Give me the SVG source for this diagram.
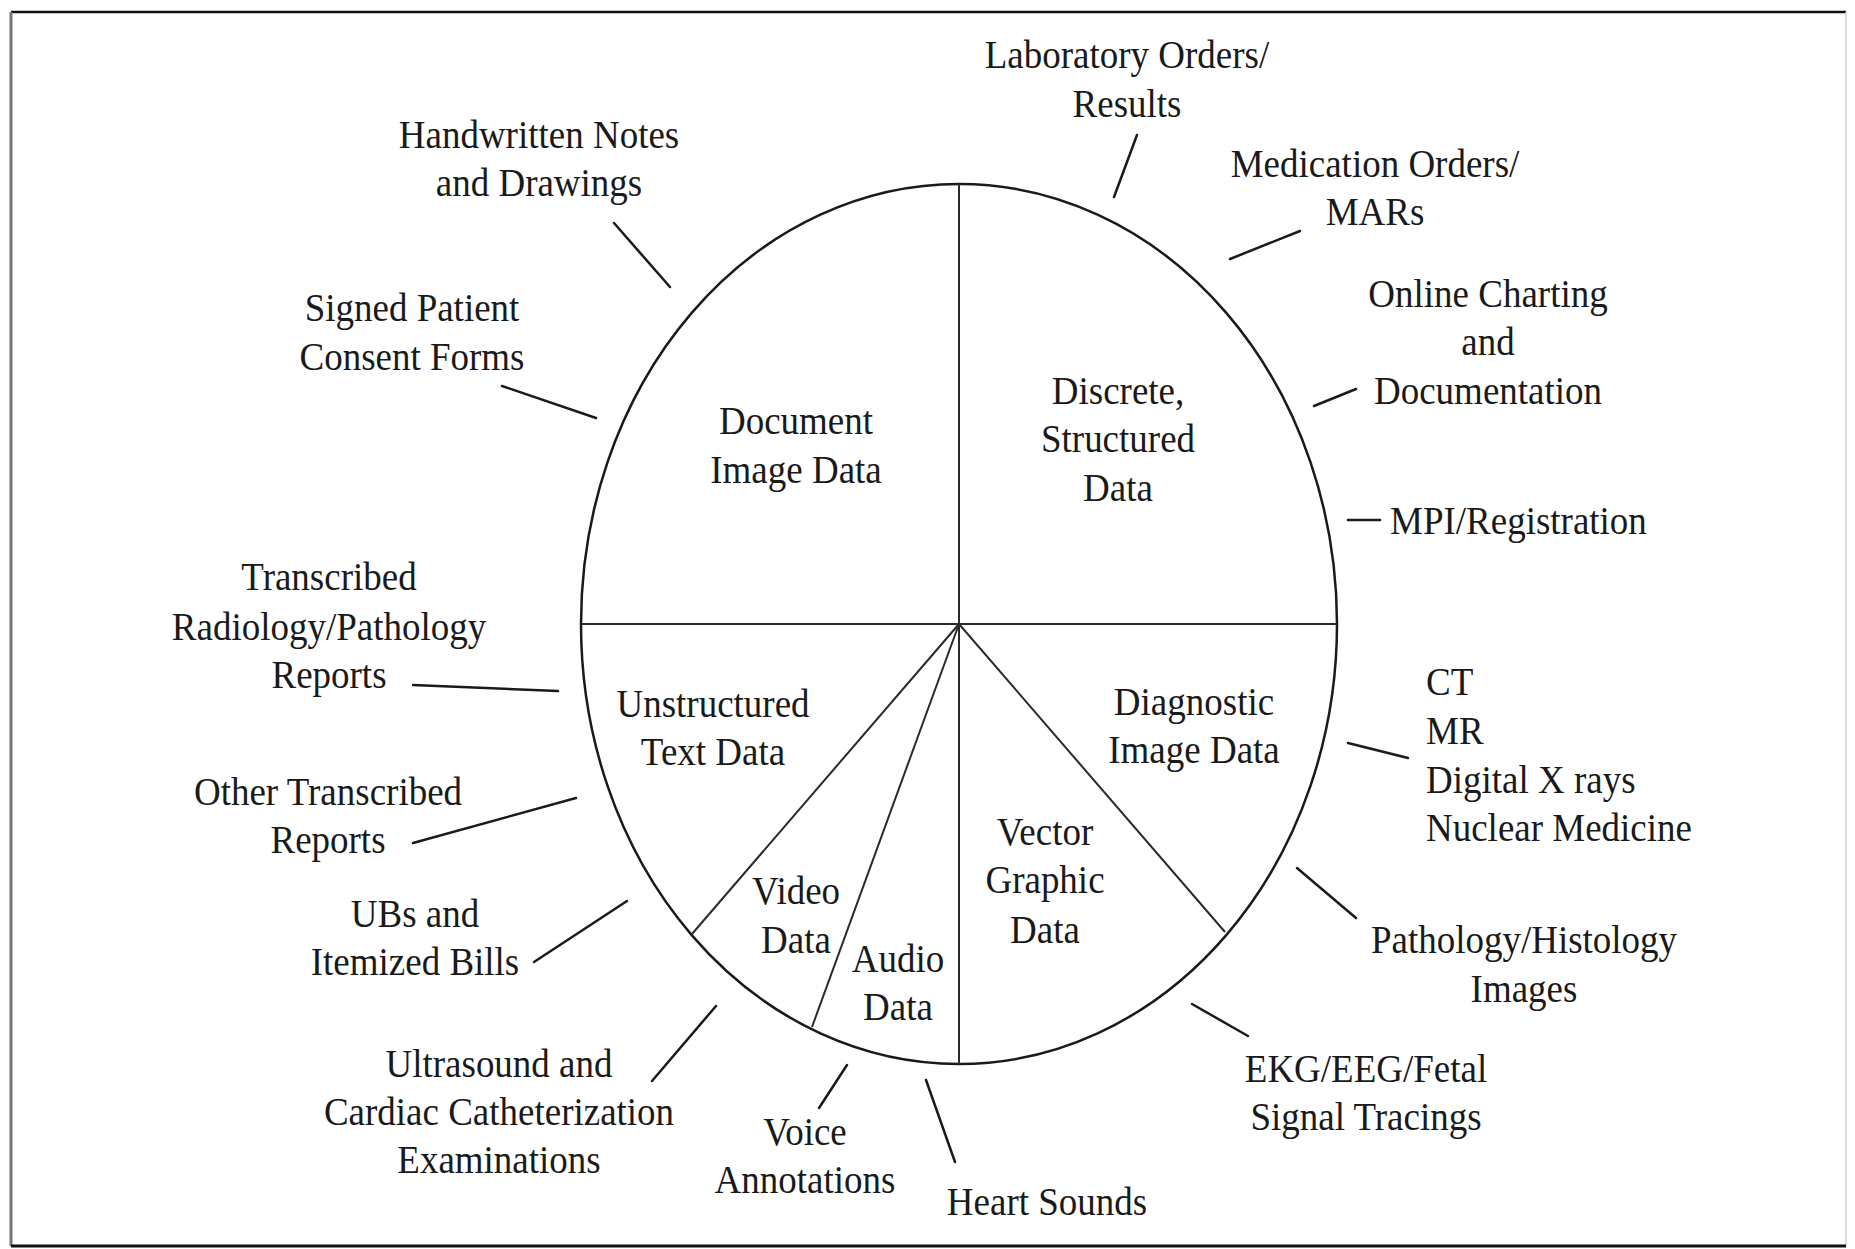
<svg xmlns="http://www.w3.org/2000/svg" width="1855" height="1249" viewBox="0 0 1855 1249">
<style>
.t{font-family:"Liberation Serif","Times New Roman",serif;font-size:40px;fill:#1a1a1a;text-anchor:middle}
.l{text-anchor:start}
.ld{stroke:#1a1a1a;stroke-width:2.5;fill:none;stroke-linecap:round}
.sp{stroke:#2a2a2a;stroke-width:2;fill:none}
</style>
<rect width="1855" height="1249" fill="#fff"/>
<g id="frame">
<line x1="11" y1="12" x2="1846" y2="12" stroke="#111" stroke-width="2.5"/>
<line x1="11" y1="12" x2="11" y2="1246" stroke="#777" stroke-width="3"/>
<line x1="1846" y1="12" x2="1846" y2="1246" stroke="#ccc" stroke-width="1.5"/>
<line x1="11" y1="1246" x2="1846" y2="1246" stroke="#111" stroke-width="3"/>
</g>
<g id="ellipse">
<ellipse cx="959" cy="624" rx="378" ry="440" fill="none" stroke="#1a1a1a" stroke-width="2.5"/>
<line class="sp" x1="959" y1="184" x2="959" y2="1064" stroke="#444"/>
<line class="sp" x1="581" y1="624" x2="1337" y2="624" stroke-width="3" stroke="#111"/>
<line class="sp" x1="959" y1="624" x2="692" y2="934"/>
<line class="sp" x1="959" y1="624" x2="812" y2="1027"/>
<line class="sp" x1="959" y1="624" x2="1225" y2="932"/>
</g>
<g id="sectors">
<g id="document-image-data"><text class="t" transform="translate(796 0) scale(0.925 1)"><tspan x="0" y="434">Document</tspan><tspan x="0" y="483">Image Data</tspan></text></g>
<g id="discrete-structured-data"><text class="t" transform="translate(1118 0) scale(0.925 1)"><tspan x="0" y="404">Discrete,</tspan><tspan x="0" y="452">Structured</tspan><tspan x="0" y="501">Data</tspan></text></g>
<g id="unstructured-text-data"><text class="t" transform="translate(713 0) scale(0.925 1)"><tspan x="0" y="717">Unstructured</tspan><tspan x="0" y="765">Text Data</tspan></text></g>
<g id="diagnostic-image-data"><text class="t" transform="translate(1194 0) scale(0.925 1)"><tspan x="0" y="715">Diagnostic</tspan><tspan x="0" y="763">Image Data</tspan></text></g>
<g id="vector-graphic-data"><text class="t" transform="translate(1045 0) scale(0.925 1)"><tspan x="0" y="845">Vector</tspan><tspan x="0" y="893">Graphic</tspan><tspan x="0" y="943">Data</tspan></text></g>
<g id="video-data"><text class="t" transform="translate(796 0) scale(0.925 1)"><tspan x="0" y="904">Video</tspan><tspan x="0" y="953">Data</tspan></text></g>
<g id="audio-data"><text class="t" transform="translate(898 0) scale(0.925 1)"><tspan x="0" y="972">Audio</tspan><tspan x="0" y="1020">Data</tspan></text></g>
</g>
<g id="labels">
<g id="lab"><text class="t" transform="translate(1127 0) scale(0.925 1)"><tspan x="0" y="68">Laboratory Orders/</tspan><tspan x="0" y="117">Results</tspan></text></g>
<g id="handwritten"><text class="t" transform="translate(539 0) scale(0.925 1)"><tspan x="0" y="148">Handwritten Notes</tspan><tspan x="0" y="196">and Drawings</tspan></text></g>
<g id="medication"><text class="t" transform="translate(1375 0) scale(0.925 1)"><tspan x="0" y="177">Medication Orders/</tspan><tspan x="0" y="225">MARs</tspan></text></g>
<g id="signed"><text class="t" transform="translate(412 0) scale(0.925 1)"><tspan x="0" y="321">Signed Patient</tspan><tspan x="0" y="370">Consent Forms</tspan></text></g>
<g id="online"><text class="t" transform="translate(1488 0) scale(0.925 1)"><tspan x="0" y="307">Online Charting</tspan><tspan x="0" y="355">and</tspan><tspan x="0" y="404">Documentation</tspan></text></g>
<g id="mpi"><text class="t l" transform="translate(1390 0) scale(0.925 1)"><tspan x="0" y="534">MPI/Registration</tspan></text></g>
<g id="transcribed"><text class="t" transform="translate(329 0) scale(0.925 1)"><tspan x="0" y="590">Transcribed</tspan><tspan x="0" y="640">Radiology/Pathology</tspan><tspan x="0" y="688">Reports</tspan></text></g>
<g id="modalities"><text class="t l" transform="translate(1426 0) scale(0.925 1)"><tspan x="0" y="695">CT</tspan><tspan x="0" y="744">MR</tspan><tspan x="0" y="793">Digital X rays</tspan><tspan x="0" y="841">Nuclear Medicine</tspan></text></g>
<g id="other-transcribed"><text class="t" transform="translate(328 0) scale(0.925 1)"><tspan x="0" y="805">Other Transcribed</tspan><tspan x="0" y="853">Reports</tspan></text></g>
<g id="ubs"><text class="t" transform="translate(415 0) scale(0.925 1)"><tspan x="0" y="927">UBs and</tspan><tspan x="0" y="975">Itemized Bills</tspan></text></g>
<g id="pathology"><text class="t" transform="translate(1524 0) scale(0.925 1)"><tspan x="0" y="953">Pathology/Histology</tspan><tspan x="0" y="1002">Images</tspan></text></g>
<g id="ultrasound"><text class="t" transform="translate(499 0) scale(0.925 1)"><tspan x="0" y="1077">Ultrasound and</tspan><tspan x="0" y="1125">Cardiac Catheterization</tspan><tspan x="0" y="1173">Examinations</tspan></text></g>
<g id="ekg"><text class="t" transform="translate(1366 0) scale(0.925 1)"><tspan x="0" y="1082">EKG/EEG/Fetal</tspan><tspan x="0" y="1130">Signal Tracings</tspan></text></g>
<g id="voice"><text class="t" transform="translate(805 0) scale(0.925 1)"><tspan x="0" y="1145">Voice</tspan><tspan x="0" y="1193">Annotations</tspan></text></g>
<g id="heart"><text class="t" transform="translate(1047 0) scale(0.925 1)"><tspan x="0" y="1215">Heart Sounds</tspan></text></g>
</g>
<g id="connectors">
<line class="ld" x1="1137" y1="135" x2="1114" y2="197"/>
<line class="ld" x1="614" y1="223" x2="670" y2="287"/>
<line class="ld" x1="1300" y1="231" x2="1230" y2="259"/>
<line class="ld" x1="502" y1="386" x2="596" y2="418"/>
<line class="ld" x1="1356" y1="389" x2="1314" y2="406"/>
<line class="ld" x1="1348" y1="520" x2="1380" y2="520"/>
<line class="ld" x1="413" y1="685" x2="558" y2="691"/>
<line class="ld" x1="1408" y1="758" x2="1348" y2="743"/>
<line class="ld" x1="413" y1="843" x2="576" y2="798"/>
<line class="ld" x1="534" y1="962" x2="627" y2="901"/>
<line class="ld" x1="1356" y1="918" x2="1297" y2="868"/>
<line class="ld" x1="652" y1="1081" x2="716" y2="1006"/>
<line class="ld" x1="1248" y1="1036" x2="1192" y2="1004"/>
<line class="ld" x1="819" y1="1108" x2="847" y2="1065"/>
<line class="ld" x1="955" y1="1162" x2="926" y2="1080"/>
</g>
</svg>
